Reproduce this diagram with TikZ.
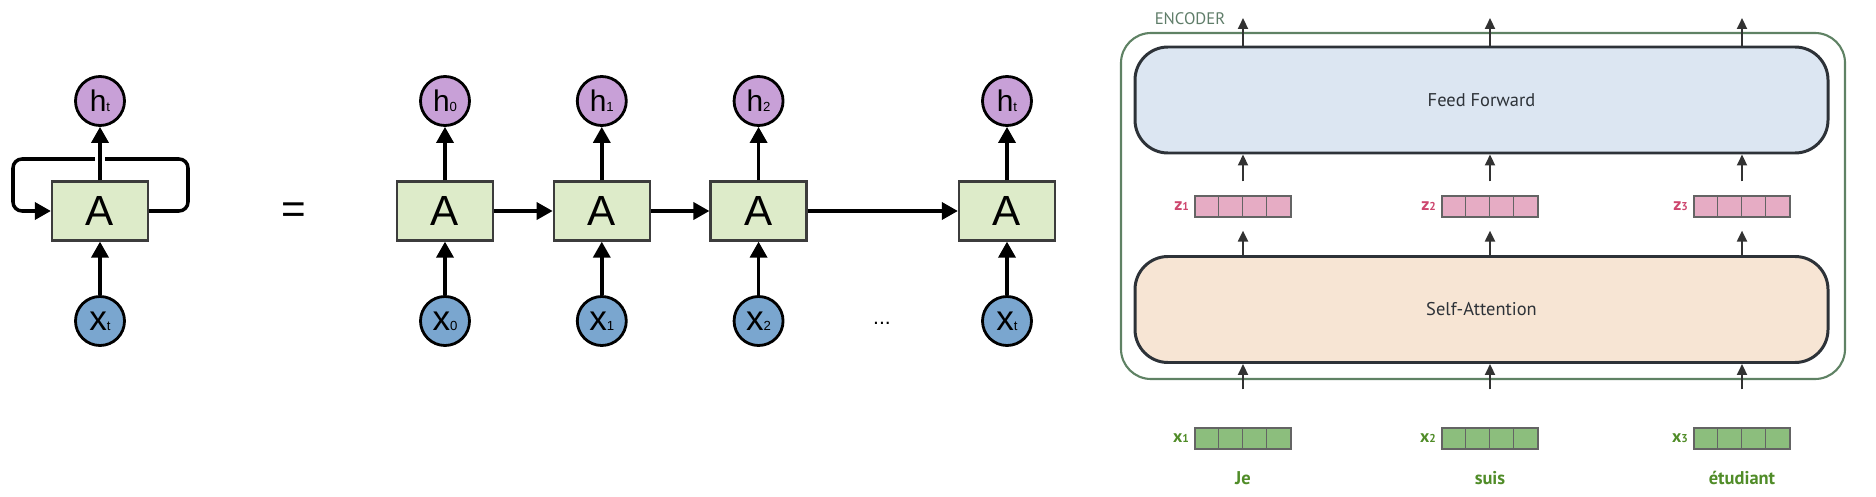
\documentclass[tikz,border=0pt]{standalone}
\usepackage{fontspec}
\setmainfont{Liberation Sans}
\newfontfamily\encfont{PT Sans}
\usepackage{tikz}
\usetikzlibrary{arrows.meta}
\usetikzlibrary{positioning}

\definecolor{hpurple}{RGB}{200,160,215}
\definecolor{xblue}{RGB}{122,166,207}
\definecolor{cellgreen}{RGB}{221,235,201}
\definecolor{boxline}{RGB}{60,60,60}
\definecolor{encgreen}{RGB}{95,130,100}
\definecolor{enctext}{RGB}{95,125,105}
\definecolor{layerline}{RGB}{45,50,56}
\definecolor{ffblue}{RGB}{220,230,242}
\definecolor{sapeach}{RGB}{247,229,212}
\definecolor{zpink}{RGB}{230,172,196}
\definecolor{zlabel}{RGB}{205,70,110}
\definecolor{xgreen}{RGB}{140,190,125}
\definecolor{wordgreen}{RGB}{80,140,40}
\definecolor{cellline}{RGB}{100,100,100}
\definecolor{arrowgray}{RGB}{50,50,50}

\newcommand{\rnnsub}[1]{{\fontsize{7.5}{7.5}\selectfont #1}}
\newcommand{\vecsub}[1]{{\fontsize{6.5}{6.5}\selectfont #1}}

\begin{document}
\begin{tikzpicture}[thick,node distance=2.2cm,
  rnncell/.style={rectangle,draw=boxline,fill=cellgreen,line width=1.3pt,
    minimum width=1.92cm,minimum height=1.18cm,font=\fontsize{24}{24}\selectfont},
  hstate/.style={circle,draw=black,fill=hpurple,line width=1.6pt,
    minimum size=0.98cm,inner sep=0pt,font=\fontsize{17}{17}\selectfont},
  xstate/.style={circle,draw=black,fill=xblue,line width=1.6pt,
    minimum size=0.98cm,inner sep=0pt,font=\fontsize{20}{20}\selectfont},
  rnnarrow/.style={-{Triangle[length=0.32cm,width=0.34cm]},line width=2pt},
  layer/.style={rectangle,rounded corners=0.66cm,draw=layerline,line width=1.7pt,
    minimum width=13.86cm,minimum height=2.12cm,text=layerline,
    font=\encfont\fontsize{10.5}{10.5}\selectfont},
  vec/.style={rectangle,draw=cellline,line width=0.7pt,
    minimum width=1.92cm,minimum height=0.42cm,inner sep=0pt},
  veclabel/.style={font=\encfont\bfseries\fontsize{10}{10}\selectfont,inner sep=1pt},
  encarrow/.style={-{Triangle[length=0.22cm,width=0.2cm]},line width=1.2pt,draw=arrowgray}]

  \useasboundingbox (0,0) rectangle (37.52,9.92);

  % rolled RNN
  \node[rnncell] (a) at (2.00,5.70) {A};
  \node[hstate] (h) [above of=a] {h\rnnsub{t}};
  \node[xstate] (x) [below of=a] {x\rnnsub{t}};
  \coordinate (loopr) at (3.76,6.74);
  \coordinate (loopl) at (0.26,6.74);
  \draw[rnnarrow,rounded corners=0.18cm] (a.east) -| (loopr) -- (loopl) |- (a.west);
  \path[rnnarrow]
    (x) edge (a)
    (a) edge[preaction={draw=white,line width=6pt,-,shorten <=0.3cm,shorten >=0.5cm}] (h);

  \node[font=\fontsize{24}{24}\selectfont] (eq) at (5.88,5.66) {=};

  % unrolled RNN
  \node[rnncell] (a0) at (8.90,5.70) {A};
  \node[rnncell] (a1) [right=1.17cm of a0] {A};
  \node[rnncell] (a2) [right=1.17cm of a1] {A};
  \node[rnncell] (a3) at (20.14,5.70) {A};
  \node[hstate] (h0) [above of=a0] {h\rnnsub{0}};
  \node[hstate] (h1) [above of=a1] {h\rnnsub{1}};
  \node[hstate] (h2) [above of=a2] {h\rnnsub{2}};
  \node[hstate] (h3) [above of=a3] {h\rnnsub{t}};
  \node[xstate] (x0) [below of=a0] {x\rnnsub{0}};
  \node[xstate] (x1) [below of=a1] {x\rnnsub{1}};
  \node[xstate] (x2) [below of=a2] {x\rnnsub{2}};
  \node[xstate] (x3) [below of=a3] {x\rnnsub{t}};
  \node[font=\fontsize{12}{12}\selectfont] (dots) at (17.64,3.45) {...};

  \path[rnnarrow]
    (a0) edge (a1)
         edge (h0)
    (a1) edge (a2)
         edge (h1)
    (a2) edge (a3)
         edge (h2)
    (a3) edge (h3)
    (x0) edge (a0)
    (x1) edge (a1)
    (x2) edge (a2)
    (x3) edge (a3);

  % encoder
  \node[draw=encgreen,line width=1.2pt,rounded corners=0.6cm,
    minimum width=14.48cm,minimum height=6.92cm] (enc) at (29.66,5.80) {};
  \node[text=enctext,font=\encfont\fontsize{9.5}{9.5}\selectfont] (enclabel) at (23.80,9.54) {ENCODER};
  \node[layer,fill=ffblue] (ff) at (29.63,7.92) {Feed Forward};
  \node[layer,fill=sapeach] (sa) at (29.63,3.73) {Self-Attention};

  \foreach \i/\cx/\word in {1/24.86/Je,2/29.80/suis,3/34.84/étudiant} {
    \node[vec,fill=zpink] (z\i) at (\cx,5.79) {};
    \node[vec,fill=xgreen] (x\i) at (\cx,1.15) {};
    \foreach \k in {1,2,3} {
      \draw[cellline,line width=0.7pt] ([xshift=\k*0.48cm]z\i.north west) -- ([xshift=\k*0.48cm]z\i.south west);
      \draw[cellline,line width=0.7pt] ([xshift=\k*0.48cm]x\i.north west) -- ([xshift=\k*0.48cm]x\i.south west);
    }
    \node[veclabel,text=zlabel] (zl\i) [left=0.06cm of z\i] {z\vecsub{\i}};
    \node[veclabel,text=wordgreen] (xl\i) [left=0.06cm of x\i] {x\vecsub{\i}};
    \node[text=wordgreen,font=\encfont\bfseries\fontsize{10.5}{10.5}\selectfont] (w\i) at (\cx,0.36) {\word};
    \coordinate (top\i) at (\cx,9.56);
    \draw[encarrow] (ff.north -| top\i) -- (top\i);
    \draw[encarrow,shorten <=0.28cm] (z\i.north) -- (z\i.north |- ff.south);
    \draw[encarrow,shorten >=0.26cm] (sa.north -| z\i) -- (z\i.south);
    \draw[encarrow,shorten <=0.76cm] (x\i.north) -- (x\i.north |- sa.south);
  }
\end{tikzpicture}
\end{document}
